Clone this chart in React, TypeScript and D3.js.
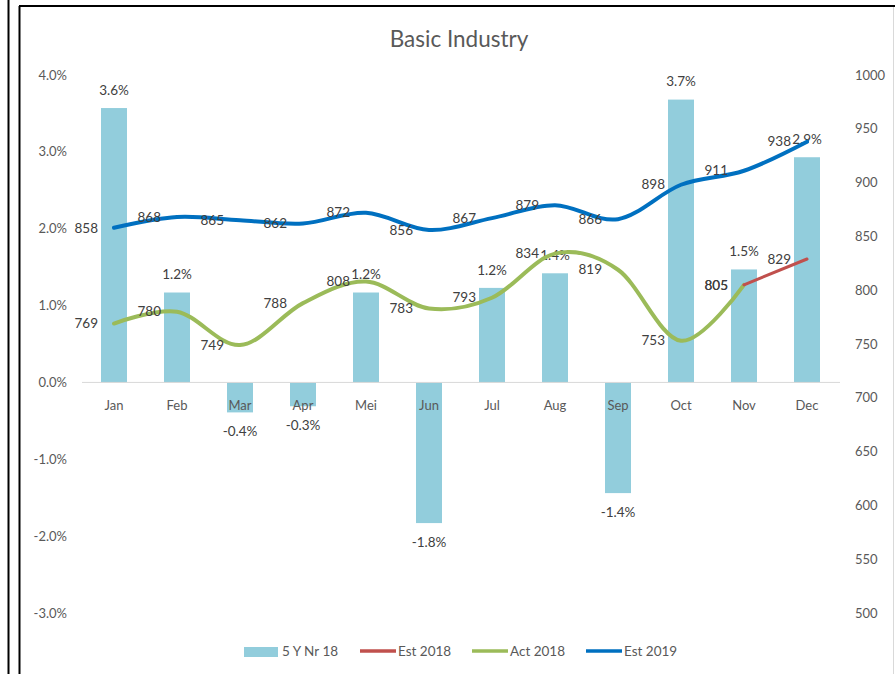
import React from "react";
import * as d3 from "d3";

const months = ["Jan", "Feb", "Mar", "Apr", "Mei", "Jun", "Jul", "Aug", "Sep", "Oct", "Nov", "Dec"];
const fiveYrNr18 = [3.57, 1.17, -0.39, -0.31, 1.17, -1.83, 1.23, 1.42, -1.44, 3.68, 1.47, 2.93];
const act2018: (number | null)[] = [769, 780, 749, 788, 808, 783, 793, 834, 819, 753, 805, null];
const est2018: (number | null)[] = [null, null, null, null, null, null, null, null, null, null, 805, 829];
const est2019 = [858, 868, 865, 862, 872, 856, 867, 879, 866, 898, 911, 938];
const leftTicks = [4, 3, 2, 1, 0, -1, -2, -3];
const rightTicks = [1000, 950, 900, 850, 800, 750, 700, 650, 600, 550, 500];

const W = 895;
const H = 674;
const FONT = "Lato, 'Noto Sans', sans-serif";
const BAR = "#92CDDC";
const BLUE = "#0070C0";
const RED = "#C0504D";
const GREEN = "#9BBB59";
const TXT = "#404040";
const AX = "#595959";

export default function App() {
  const x = d3
    .scaleBand<string>()
    .domain(months)
    .range([82.5, 838.5])
    .paddingInner(37 / 63)
    .paddingOuter(37 / 126);
  const cx = (m: string) => (x(m) as number) + x.bandwidth() / 2;
  const yL = d3.scaleLinear().domain([-3, 4]).range([613, 75]);
  const yR = d3.scaleLinear().domain([500, 1000]).range([613, 75]);

  const line = d3
    .line<[string, number | null]>()
    .defined((d) => d[1] != null)
    .x((d) => cx(d[0]))
    .y((d) => yR(d[1] as number))
    .curve(d3.curveCardinal.tension(0));
  const straight = d3
    .line<[string, number | null]>()
    .defined((d) => d[1] != null)
    .x((d) => cx(d[0]))
    .y((d) => yR(d[1] as number));

  const zip = (arr: (number | null)[]) => months.map((m, i) => [m, arr[i]] as [string, number | null]);

  const lineLabels = (arr: (number | null)[], key: string) =>
    months.map((m, i) =>
      arr[i] == null ? null : (
        <text
          key={key + m}
          x={cx(m) - 16}
          y={yR(arr[i] as number)}
          dy="0.35em"
          textAnchor="end"
          fontSize={13.5}
          fill={TXT}
        >
          {arr[i]}
        </text>
      )
    );

  const legend = [
    { type: "bar", label: "5 Y Nr 18", x: 244, color: BAR },
    { type: "line", label: "Est 2018", x: 360, color: RED },
    { type: "line", label: "Act 2018", x: 472, color: GREEN },
    { type: "line", label: "Est 2019", x: 586, color: BLUE },
  ];

  return (
    <svg
      width={W}
      height={H}
      style={{ position: "absolute", left: 0, top: 0, background: "#fff" }}
      fontFamily={FONT}
    >
      {/* frame */}
      <line x1={8.5} y1={0} x2={8.5} y2={H} stroke="#000" strokeWidth={2} />
      <line x1={19.5} y1={6} x2={19.5} y2={H} stroke="#000" strokeWidth={2} />
      <line x1={19} y1={6} x2={W} y2={6} stroke="#000" strokeWidth={2} />
      <line x1={893.5} y1={7} x2={893.5} y2={H} stroke="#d9d9d9" strokeWidth={1} />

      {/* title */}
      <text x={459} y={39} dy="0.35em" textAnchor="middle" fontSize={22.5} fill={AX}>
        Basic Industry
      </text>

      {/* left axis labels */}
      {leftTicks.map((t) => (
        <text key={"l" + t} x={67} y={yL(t)} dy="0.35em" textAnchor="end" fontSize={13} fill={AX}>
          {t.toFixed(1) + "%"}
        </text>
      ))}
      {/* right axis labels */}
      {rightTicks.map((t) => (
        <text key={"r" + t} x={855} y={yR(t)} dy="0.35em" textAnchor="start" fontSize={13} fill={AX}>
          {t}
        </text>
      ))}

      {/* bars */}
      {months.map((m, i) => {
        const v = fiveYrNr18[i];
        const y0 = yL(0);
        const y1 = yL(v);
        return (
          <rect
            key={"b" + m}
            x={x(m)}
            y={Math.min(y0, y1)}
            width={x.bandwidth()}
            height={Math.abs(y1 - y0)}
            fill={BAR}
          />
        );
      })}

      {/* zero axis */}
      <line x1={82} y1={yL(0)} x2={840} y2={yL(0)} stroke="#d9d9d9" strokeWidth={1} />

      {/* category labels */}
      {months.map((m) => (
        <text key={"c" + m} x={cx(m)} y={405} dy="0.35em" textAnchor="middle" fontSize={13} fill={AX}>
          {m}
        </text>
      ))}

      {/* bar labels */}
      {months.map((m, i) => {
        const v = fiveYrNr18[i];
        const yy = v >= 0 ? yL(v) - 18 : yL(v) + 19;
        return (
          <text key={"bl" + m} x={cx(m)} y={yy} dy="0.35em" textAnchor="middle" fontSize={13.5} fill={TXT}>
            {v.toFixed(1) + "%"}
          </text>
        );
      })}

      {/* lines */}
      <path d={line(zip(est2019)) || ""} fill="none" stroke={BLUE} strokeWidth={4} strokeLinecap="round" />
      <path d={line(zip(act2018)) || ""} fill="none" stroke={GREEN} strokeWidth={4} strokeLinecap="round" />
      <path d={straight(zip(est2018)) || ""} fill="none" stroke={RED} strokeWidth={3} strokeLinecap="round" />

      {/* line labels */}
      {lineLabels(est2019, "e19")}
      {lineLabels(act2018, "a18")}
      {lineLabels(est2018, "e18")}

      {/* legend */}
      {legend.map((l) => (
        <g key={l.label}>
          {l.type === "bar" ? (
            <rect x={l.x} y={647} width={34} height={10} fill={l.color} />
          ) : (
            <line x1={l.x} y1={651} x2={l.x + 36} y2={651} stroke={l.color} strokeWidth={3.5} />
          )}
          <text x={l.x + 38} y={651} dy="0.35em" fontSize={13.5} fill={AX}>
            {l.label}
          </text>
        </g>
      ))}
    </svg>
  );
}
